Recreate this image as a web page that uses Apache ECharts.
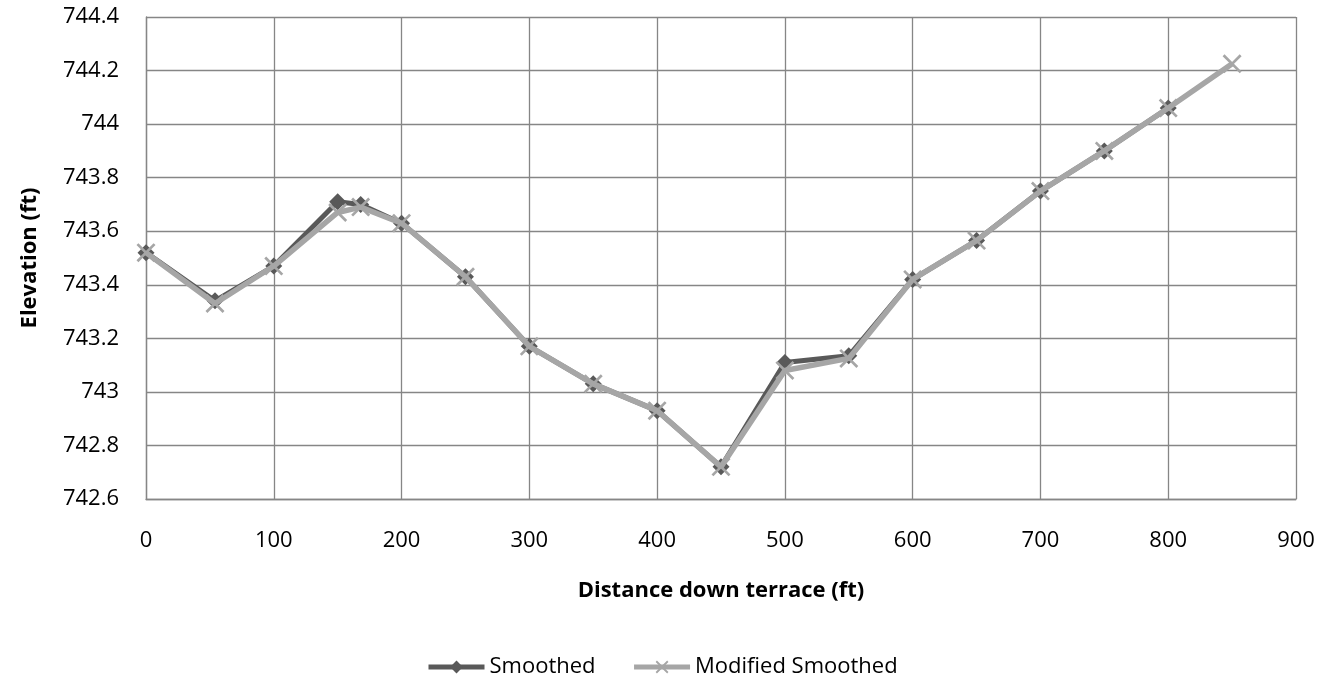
<!DOCTYPE html>
<html>
<head>
<meta charset="utf-8">
<script src="https://cdn.jsdelivr.net/npm/echarts@6/dist/echarts.min.js"></script>
<style>
  html, body { margin: 0; padding: 0; background: #fff; }
  #chart { width: 1323px; height: 682px; }
</style>
</head>
<body>
<div id="chart"></div>
<script>
// Data
const smoothedX = [0, 54, 100, 150, 168, 200, 250, 300, 350, 400, 450, 500, 550, 600, 650, 700, 750, 800];
const smoothedY = [743.52, 743.34, 743.47, 743.71, 743.70, 743.63, 743.43, 743.17, 743.03, 742.93, 742.72, 743.11, 743.135, 743.42, 743.565, 743.75, 743.90, 744.06];
const modifiedX = [0, 54, 100, 150, 168, 200, 250, 300, 350, 400, 450, 500, 550, 600, 650, 700, 750, 800, 850];
const modifiedY = [743.52, 743.33, 743.47, 743.67, 743.69, 743.63, 743.43, 743.17, 743.03, 742.93, 742.72, 743.08, 743.125, 743.42, 743.565, 743.75, 743.90, 744.06, 744.225];
const seriesNames = ['Smoothed', 'Modified Smoothed'];
const xAxisTitle = 'Distance down terrace (ft)';
const yAxisTitle = 'Elevation (ft)';

const FONT = 'Open Sans';
const GRID = '#868686';
const DARK = '#595959';
const LIGHT = '#A6A6A6';
const X_PATH = 'path://M0,1 L1,0 L10,9 L9,10 Z M9,0 L10,1 L1,10 L0,9 Z';
const D_PATH = 'path://M5,0 L10,5 L5,10 L0,5 Z';

const chart = echarts.init(document.getElementById('chart'), null, { renderer: 'canvas' });
chart.setOption({
  animation: false,
  backgroundColor: '#fff',
  grid: { left: 146, right: 27, top: 17, bottom: 183, containLabel: false },
  legend: {
    left: 421,
    top: 651,
    itemWidth: 56,
    itemHeight: 16,
    itemGap: 36,
    textStyle: { fontFamily: FONT, fontSize: 22, color: '#000' },
    lineStyle: { width: 5 },
    data: seriesNames
  },
  xAxis: {
    type: 'value',
    min: 0, max: 900, interval: 100,
    name: xAxisTitle,
    nameLocation: 'middle',
    nameGap: 81,
    nameTextStyle: { fontFamily: FONT, fontSize: 22, fontWeight: 'bold', color: '#000' },
    axisLine: { show: true, lineStyle: { color: GRID, width: 1.3 } },
    axisTick: { show: false },
    axisLabel: { fontFamily: FONT, fontSize: 22, color: '#000', margin: 31 },
    splitLine: { show: true, lineStyle: { color: GRID, width: 1.3 } }
  },
  yAxis: {
    type: 'value',
    min: 742.6, max: 744.4, interval: 0.2,
    name: yAxisTitle,
    nameLocation: 'middle',
    nameGap: 105,
    nameTextStyle: { fontFamily: FONT, fontSize: 22, fontWeight: 'bold', color: '#000' },
    axisLine: { show: true, lineStyle: { color: GRID, width: 1.3 } },
    axisTick: { show: false },
    axisLabel: {
      fontFamily: FONT, fontSize: 22, color: '#000', margin: 27,
      formatter: v => String(+v.toFixed(1))
    },
    splitLine: { show: true, lineStyle: { color: GRID, width: 1.3 } }
  },
  series: [
    {
      name: seriesNames[0],
      type: 'line',
      data: smoothedX.map((x, i) => [x, smoothedY[i]]),
      symbol: D_PATH,
      symbolSize: 17,
      showAllSymbol: true,
      lineStyle: { color: DARK, width: 5 },
      itemStyle: { color: DARK },
      z: 2
    },
    {
      name: seriesNames[1],
      type: 'line',
      data: modifiedX.map((x, i) => [x, modifiedY[i]]),
      symbol: X_PATH,
      symbolSize: 19,
      showAllSymbol: true,
      lineStyle: { color: LIGHT, width: 5.5 },
      itemStyle: { color: LIGHT },
      z: 3
    }
  ]
});
</script>
</body>
</html>
